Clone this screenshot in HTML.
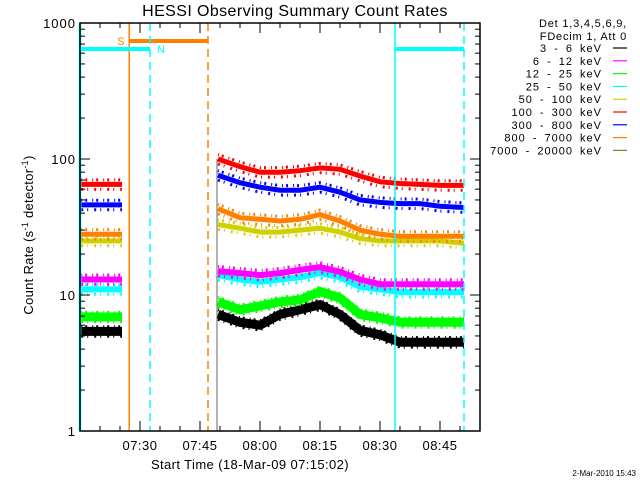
<!DOCTYPE html>
<html><head><meta charset="utf-8"><style>
html,body{margin:0;padding:0;background:#fff;}
svg{display:block;font-family:"Liberation Sans",sans-serif;}
</style></head><body>
<svg id="chart" width="640" height="480" viewBox="0 0 640 480">
<rect x="0" y="0" width="640" height="480" fill="#fff"/>
<text x="295" y="16" text-anchor="middle" font-size="16" letter-spacing="0.4" fill="#000">HESSI Observing Summary Count Rates</text>
<text x="0" y="0" transform="translate(33,235) rotate(-90)" text-anchor="middle" font-size="13" letter-spacing="0.3" fill="#000">Count Rate (s<tspan font-size="9" dy="-5">-1</tspan><tspan dy="5"> detector</tspan><tspan font-size="9" dy="-5">-1</tspan><tspan dy="5">)</tspan></text>
<text x="250" y="469" text-anchor="middle" font-size="13" letter-spacing="0.4" fill="#000">Start Time (18-Mar-09 07:15:02)</text>
<text x="636" y="476" text-anchor="end" font-size="8" fill="#000">2-Mar-2010 15:43</text>
<g id="marks"></g>
<g id="axes"></g>
<g id="legend"></g>
</svg>
<script>
const seriesNames = ["3 - 6 keV","6 - 12 keV","12 - 25 keV","25 - 50 keV","50 - 100 keV","100 - 300 keV","300 - 800 keV","800 - 7000 keV","7000 - 20000 keV"];
const seriesColors = ["#000000","#ff00ff","#00ff00","#00ffff","#d0d000","#ff0000","#0000ff","#ff8000","#808020"];
const seg1Times = [0.3, 10.5];
const seg2Times = [34.5,40,45,50,55,60,65,70,75,80,85,90,96];
const seg1Black = [5.4,5.4];
const seg1Magenta = [13,13];
const seg1Green = [6.9,6.9];
const seg1Cyan = [11,11];
const seg1Yellow = [25,25];
const seg1Red = [65,65];
const seg1Blue = [46,46];
const seg1Orange = [28,28];
const seg2Black = [7.2,6.3,6,7.2,7.8,8.5,7.2,5.5,5.1,4.5,4.5,4.5,4.5];
const seg2Magenta = [15,14.5,14,14.5,15.3,16,14.8,13,12,12,12,12,12];
const seg2Green = [8.9,7.8,8.3,8.9,9.2,10.6,9.5,7.2,6.8,6.3,6.3,6.3,6.3];
const seg2Cyan = [14,13,12.5,13,13.5,14.5,13.5,11.5,11,10.5,10.5,10.5,10.5];
const seg2Yellow = [33,31,29,29,30,31,29,26,25,25,25,25,24];
const seg2Red = [100,88,80,80,82,86,84,75,68,66,65,64,64];
const seg2Blue = [76,67,62,59,59,62,57,50,48,47,47,45,44];
const seg2Orange = [43,37,36,35,36,39,35,30,28,27,27,27,27];
const xTickLabels = ["07:30","07:45","08:00","08:15","08:30","08:45"];
const xTickMinutes = [15,30,45,60,75,90];
const yTickValues = [1,10,100,1000];
const yTickLabels = ["1","10","100","1000"];
const attenuatorEvents = [12.3, 32];
const nightStart = [0, 78.75];
const nightEnd = [17.5, 96];

const NS="http://www.w3.org/2000/svg";
const X0=80,X1=480,Y0=431,Y1=23;
const xScale=t=>X0+(t)*(X1-X0)/100;
const yScale=v=>Y0-(Math.log10(v))*(Y0-Y1)/3;
function mk(tag,attrs,parent){const e=document.createElementNS(NS,tag);for(const k in attrs)e.setAttribute(k,attrs[k]);parent.appendChild(e);return e;}
const marks=document.getElementById('marks'),axes=document.getElementById('axes'),legend=document.getElementById('legend');

function stepPath(times,vals){let d='';for(let i=0;i<times.length;i++){const x=xScale(times[i]).toFixed(1),y=yScale(vals[i]).toFixed(1);if(i===0)d+='M'+x+' '+y;else{d+='H'+x+'V'+y;}}
  const last=times.length-1;d+='H'+xScale(times[last]).toFixed(1);return d;}
function linePath(times,vals){let d='';for(let i=0;i<times.length;i++){d+=(i?'L':'M')+xScale(times[i]).toFixed(1)+' '+yScale(vals[i]).toFixed(1);}return d;}
const seg1=[seg1Black,seg1Magenta,seg1Green,seg1Cyan,seg1Yellow,seg1Red,seg1Blue,seg1Orange];
const seg2=[seg2Black,seg2Magenta,seg2Green,seg2Cyan,seg2Yellow,seg2Red,seg2Blue,seg2Orange];
const widths=[9,6,9,6,5,5,5,5];
const order=[0,2,3,1,4,7,6,5];
order.forEach(i=>{
  [[seg1Times,seg1[i]],[seg2Times,seg2[i]]].forEach((s,j)=>{
    const p=mk('path',{d:linePath(s[0],s[1]),fill:'none',stroke:seriesColors[i],'stroke-width':widths[i],'stroke-linejoin':'miter'},marks);
    
    
    const p2=mk('path',{d:linePath(s[0],s[1].map(v=>v*1.08)),fill:'none',stroke:seriesColors[i],'stroke-width':3,'stroke-dasharray':'1 3 2 5'},marks);
    
    
    const p3=mk('path',{d:linePath(s[0],s[1].map(v=>v*0.92)),fill:'none',stroke:seriesColors[i],'stroke-width':3,'stroke-dasharray':'2 4 1 6'},marks);
    
    
  });
});
let l=mk('line',{x1:xScale(34.25),x2:xScale(34.25),y1:yScale(100),y2:Y0,stroke:'#666','stroke-width':1},marks);


attenuatorEvents.forEach((t,i)=>{
  const e=mk('line',{x1:xScale(t),x2:xScale(t),y1:Y1,y2:Y0,stroke:'#ff8000','stroke-width':1.5,'stroke-dasharray':i?'8 5':'none'},marks);
  
  
});
let sb=mk('line',{x1:xScale(attenuatorEvents[0]),x2:xScale(attenuatorEvents[1]),y1:41,y2:41,stroke:'#ff8000','stroke-width':4},marks);


let st=mk('text',{x:xScale(attenuatorEvents[0])-12,y:45,'font-size':11,fill:'#ff8000'},marks);st.textContent='S';


nightStart.forEach((t,i)=>{
  const s=mk('line',{x1:xScale(t),x2:xScale(t),y1:Y1,y2:Y0,stroke:'#00ffff','stroke-width':i?1.5:2.5},marks);
  
  
  const e=mk('line',{x1:xScale(nightEnd[i]),x2:xScale(nightEnd[i]),y1:Y1,y2:Y0,stroke:'#00ffff','stroke-width':1.5,'stroke-dasharray':'8 5'},marks);
  
  
  const b=mk('line',{x1:xScale(t),x2:xScale(nightEnd[i]),y1:49,y2:49,stroke:'#00ffff','stroke-width':4},marks);
  
  
});
let nt=mk('text',{x:xScale(nightEnd[0])+7,y:53,'font-size':11,fill:'#00ffff'},marks);nt.textContent='N';



let fr=mk('rect',{x:X0,y:Y1,width:X1-X0,height:Y0-Y1,fill:'none',stroke:'#000','stroke-width':1.5},axes);


for(let m=5;m<100;m+=5){
  const len=(m%15===0)?10:5,x=xScale(m);
  const t1=mk('line',{x1:x,x2:x,y1:Y0,y2:Y0-len,stroke:'#000'},axes);
  
  
  const t2=mk('line',{x1:x,x2:x,y1:Y1,y2:Y1+len,stroke:'#000'},axes);
  
  
}
xTickLabels.forEach((lab,i)=>{
  const t=mk('text',{x:xScale(xTickMinutes[i]),y:450,'text-anchor':'middle','font-size':13,'letter-spacing':'0.5',fill:'#000'},axes);t.textContent=lab;
  
  
});
for(let d=0;d<3;d++)for(let k=2;k<=9;k++){
  const y=yScale(k*Math.pow(10,d));
  const a=mk('line',{x1:X0,x2:X0+5,y1:y,y2:y,stroke:'#000'},axes);
  
  
  const b=mk('line',{x1:X1,x2:X1-5,y1:y,y2:y,stroke:'#000'},axes);
  
  
}
yTickValues.forEach((v,i)=>{
  const y=yScale(v);
  const a=mk('line',{x1:X0,x2:X0+10,y1:y,y2:y,stroke:'#000'},axes);
  
  
  const b=mk('line',{x1:X1,x2:X1-10,y1:y,y2:y,stroke:'#000'},axes);
  
  
  const t=mk('text',{x:76,y:y+5,'text-anchor':'end','font-size':13,'letter-spacing':'1',fill:'#000'},axes);t.textContent=yTickLabels[i];
  
  
});
[["Det 1,3,4,5,6,9,",23],["FDecim 1, Att 0",36]].forEach(h=>{
  const t=mk('text',{x:627,y:h[1]+4,'text-anchor':'end','font-size':11,'letter-spacing':'0.8',fill:'#000'},legend);t.textContent=h[0];
  
  
});
seriesNames.forEach((n,i)=>{
  const y=48+i*12.8;
  const t=mk('text',{x:602,y:y+4,'text-anchor':'end','font-size':11,'letter-spacing':'1','word-spacing':'3',fill:'#000'},legend);t.textContent=n;
  
  
  const s=mk('line',{x1:613,x2:627,y1:y,y2:y,stroke:seriesColors[i],'stroke-width':1.2},legend);
  
  
});
</script>
</body></html>
